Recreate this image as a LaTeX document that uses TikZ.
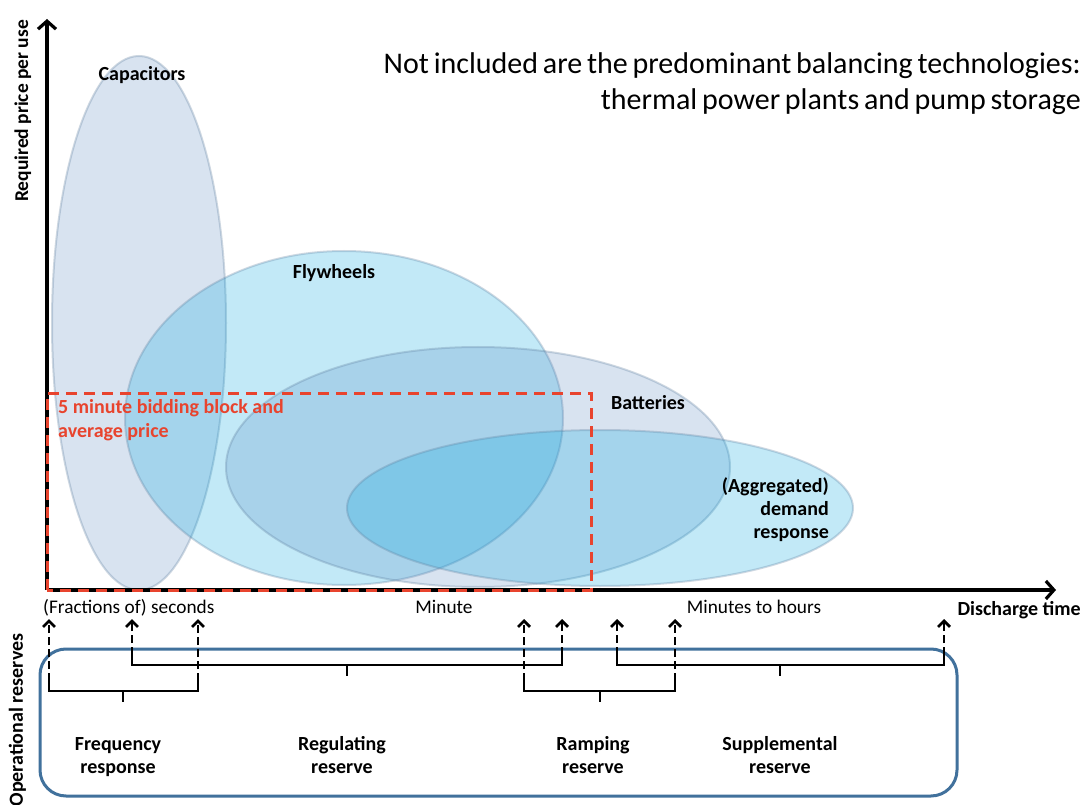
\documentclass[tikz,border=0pt]{standalone}
\usepackage{fontspec}
\setmainfont{Carlito}
\usetikzlibrary{arrows.meta}

\definecolor{grayfill}{HTML}{4F81BD}
\definecolor{cyanfill}{HTML}{00A6E0}
\definecolor{rimcol}{HTML}{5F7F9E}
\definecolor{blockred}{HTML}{E8442E}
\definecolor{boxblue}{HTML}{41719C}

\newcommand\tightwords{\spaceskip=0.16em\relax}

\tikzset{
  grayblob/.style={fill=grayfill, fill opacity=0.22, draw=rimcol, draw opacity=0.3, line width=2pt},
  cyanblob/.style={fill=cyanfill, fill opacity=0.24, draw=rimcol, draw opacity=0.3, line width=2pt},
  axisline/.style={line width=3.2pt, -{Straight Barb[length=8pt,width=18pt,line width=3.2pt]}},
  blockline/.style={draw=blockred, line width=3pt, dash pattern=on 11pt off 7pt},
  tickarrow/.style={line width=2.8pt, dash pattern=on 8pt off 4pt, -{Straight Barb[length=6pt,width=12pt,line width=2.8pt]}},
  brace/.style={line width=2.8pt, line join=miter},
  techlabel/.style={font=\fontsize{20}{24}\selectfont\bfseries, inner sep=0pt},
  scalelabel/.style={font=\fontsize{19.3}{23}\selectfont, inner sep=0pt},
  reservelabel/.style={font=\fontsize{20}{23}\selectfont\bfseries, align=center, inner sep=0pt},
  notelabel/.style={font=\fontsize{30}{35}\selectfont, anchor=base east, inner sep=0pt},
}

\begin{document}
\begin{tikzpicture}[x=1pt,y=-1pt]
\useasboundingbox (0,0) rectangle (1080,805);

% storage technologies
\fill[white] (0,0) rectangle (1080,805);
\draw[grayblob] (139,323) ellipse [x radius=87, y radius=267];
\draw[cyanblob] (344,418) ellipse [x radius=219, y radius=167];
\draw[grayblob] (478,467) ellipse [x radius=252, y radius=120];
\draw[cyanblob] (600,508) ellipse [x radius=253, y radius=78];

\node[techlabel, anchor=base] (cap) at (142,81) {Capacitors};
\node[techlabel, anchor=base] (fly) at (334,279) {Flywheels};
\node[techlabel, anchor=base] (bat) at (648,409) {Batteries};
\node[techlabel, anchor=base east] (dr1) at (829,492) {(Aggregated)};
\node[techlabel, anchor=base east] (dr2) at (829,515) {demand};
\node[techlabel, anchor=base east] (dr3) at (829,538) {response};

% axes
\coordinate (O) at (47,590);
\coordinate (ytop) at (47,19);
\coordinate (xend) at (1056,590);
\draw[axisline] (O) -- (ytop);
\draw[axisline] (O) -- (xend);

\node[font=\fontsize{19.5}{23}\selectfont\bfseries, rotate=90, anchor=base, inner sep=0pt] (ylab) at (28,111) {Required price per use};
\node[font=\fontsize{20}{24}\selectfont\bfseries, anchor=base east, inner sep=0pt] (xlab) at (1081,615) {Discharge time};

% five minute block
\draw[blockline] (47,590) -- (47,393) -- (591,393) -- (591,590) -- cycle;
\node[techlabel, text=blockred, anchor=base west] (blk1) at (58,413) {5 minute bidding block and};
\node[techlabel, text=blockred, anchor=base west] (blk2) at (58,437) {average price};

% note
\node[notelabel] (note1) at (1081,74) {\tightwords Not included are the predominant balancing technologies:};
\node[notelabel] (note2) at (1081,110) {\tightwords thermal power plants and pump storage};

% time scale
\node[scalelabel, anchor=base west] (sec) at (43,613) {(Fractions of) seconds};
\node[scalelabel, anchor=base] (min) at (444,613) {Minute};
\node[scalelabel, anchor=base] (mth) at (754,613) {Minutes to hours};

% operational reserves
\draw[boxblue, line width=3pt, rounded corners=26pt] (40,649) rectangle (957,796);
\node[font=\fontsize{20}{24}\selectfont\bfseries, rotate=90, anchor=base, inner sep=0pt] (oplab) at (23,720) {Operational reserves};

\foreach \n/\x/\yb in {a/49/691, b/132/665, c/198/691, d/524/691, e/562/665, f/617/665, g/675/691, h/944/665}{
  \coordinate (top\n) at (\x,619);
  \coordinate (low\n) at (\x,\yb-10);
  \draw[tickarrow] (low\n) -- (top\n);
}

\draw[brace] (lowa) -- (49,691) -- (198,691) -- (lowc);
\draw[brace] (123,691) -- (123,702);
\draw[brace] (lowb) -- (132,665) -- (562,665) -- (lowe);
\draw[brace] (347,665) -- (347,676);
\draw[brace] (lowd) -- (524,691) -- (675,691) -- (lowg);
\draw[brace] (600,691) -- (600,702);
\draw[brace] (lowf) -- (617,665) -- (944,665) -- (lowh);
\draw[brace] (780,665) -- (780,676);

\node[reservelabel, anchor=base] (fr) at (118,773) {Frequency\\response};
\node[reservelabel, anchor=base] (rg) at (342,773) {Regulating\\reserve};
\node[reservelabel, anchor=base] (rp) at (593,773) {Ramping\\reserve};
\node[reservelabel, anchor=base] (sp) at (780,773) {Supplemental\\reserve};
\end{tikzpicture}
\end{document}
